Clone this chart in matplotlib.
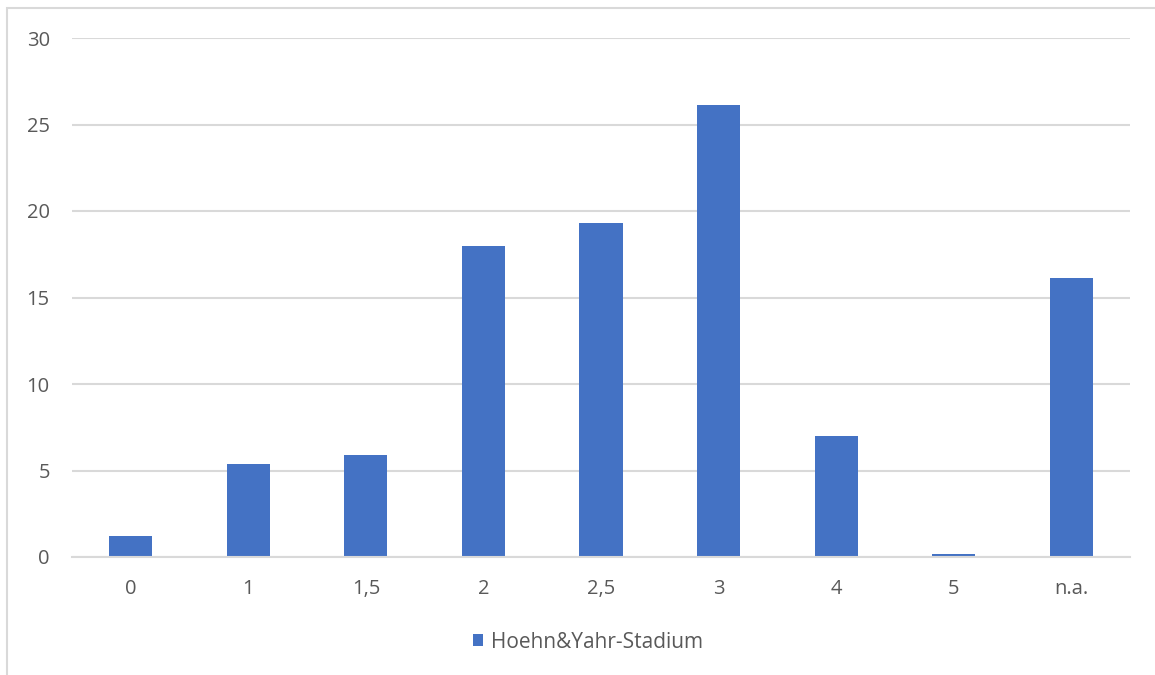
import matplotlib.pyplot as plt
from matplotlib.patches import Rectangle

plt.rcParams["font.family"] = ["Open Sans", "DejaVu Sans"]

categories = ["0", "1", "1,5", "2", "2,5", "3", "4", "5", "n.a."]
values = [1.2, 5.4, 5.9, 18.0, 19.3, 26.1, 7.0, 0.2, 16.1]
series_name = "Hoehn&Yahr-Stadium"

bar_color = "#4472C4"
grid_color = "#D9D9D9"
text_color = "#595959"

fig = plt.figure(figsize=(11.55, 6.75), dpi=100)

# chart frame, cut off at right and bottom
fig.patches.append(Rectangle((7 / 1155, -0.1), 1.2, 1.1 - 8 / 675,
                             transform=fig.transFigure, fill=False,
                             edgecolor=grid_color, linewidth=1.5))

ax = fig.add_axes([72 / 1155, 1 - 557 / 675, (1130 - 72) / 1155, (557 - 38) / 675])
x = range(len(categories))
ax.bar(x, values, width=0.366, color=bar_color, label=series_name, zorder=3)

ax.set_xlim(-0.5, len(categories) - 0.5)
ax.set_ylim(0, 30)
ax.set_yticks(range(0, 31, 5))
ax.set_xticks(list(x))
ax.set_xticklabels(categories)
ax.yaxis.grid(True, color=grid_color, linewidth=1.5)
ax.set_axisbelow(True)

for side in ["top", "right", "left"]:
    ax.spines[side].set_visible(False)
ax.spines["bottom"].set_color(grid_color)
ax.spines["bottom"].set_linewidth(1.5)
ax.spines["bottom"].set_zorder(4)

ax.tick_params(axis="both", length=0, labelsize=14.5, colors=text_color)
ax.tick_params(axis="y", pad=16)
ax.tick_params(axis="x", pad=16)

leg = fig.legend(loc="center", bbox_to_anchor=(588 / 1155, 1 - 642 / 675),
                 frameon=False, fontsize=15, handlelength=0.5, handleheight=0.5,
                 handletextpad=0.4)
for t in leg.get_texts():
    t.set_color(text_color)

fig.savefig("out.png", dpi=100)
